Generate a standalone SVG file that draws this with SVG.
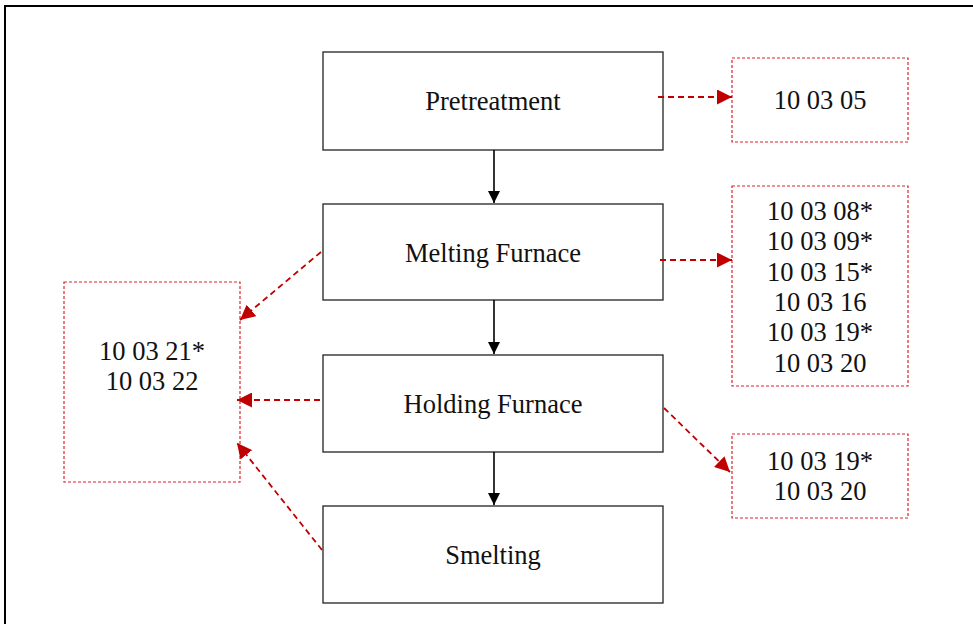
<svg xmlns="http://www.w3.org/2000/svg" width="973" height="624" viewBox="0 0 973 624">
<style>
.box{fill:#fff;stroke:#222;stroke-width:1.3}
.out{fill:#fff;stroke:#d9242b;stroke-width:1.2;stroke-dasharray:3 2}
.t{font-family:"Liberation Serif","Times New Roman",serif;font-size:26.5px;fill:#111;text-anchor:middle}
.k{stroke:#000;stroke-width:1.6;fill:none}
.r{stroke:#c00000;stroke-width:1.8;fill:none;stroke-dasharray:6 4}
</style>
<defs>
<marker id="ak" viewBox="0 0 10 10" refX="10" refY="5" markerWidth="14" markerHeight="12" markerUnits="userSpaceOnUse" orient="auto"><path d="M0,0L10,5L0,10z" fill="#000"/></marker>
<marker id="ar" viewBox="0 0 10 10" refX="10" refY="5" markerWidth="15" markerHeight="15" markerUnits="userSpaceOnUse" orient="auto"><path d="M0,0L10,5L0,10z" fill="#c00000"/></marker>
</defs>
<rect width="973" height="624" fill="#fff"/>
<path d="M5,624V6H973" fill="none" stroke="#000" stroke-width="2"/>
<g id="pretreatment"><rect class="box" x="323" y="52" width="340" height="98"/><text class="t" x="493" y="110">Pretreatment</text></g>
<g id="melting"><rect class="box" x="323" y="204" width="340" height="96"/><text class="t" x="493" y="262">Melting Furnace</text></g>
<g id="holding"><rect class="box" x="323" y="355" width="340" height="97"/><text class="t" x="493" y="413">Holding Furnace</text></g>
<g id="smelting"><rect class="box" x="323" y="506" width="340" height="97"/><text class="t" x="493" y="564">Smelting</text></g>
<g id="w1"><rect class="out" x="732" y="58" width="176" height="84"/><text class="t" x="820" y="109">10 03 05</text></g>
<g id="w2"><rect class="out" x="732" y="186" width="176" height="200"/><text class="t" x="820" y="220">10 03 08*</text><text class="t" x="820" y="250">10 03 09*</text><text class="t" x="820" y="281">10 03 15*</text><text class="t" x="820" y="311">10 03 16</text><text class="t" x="820" y="341">10 03 19*</text><text class="t" x="820" y="372">10 03 20</text></g>
<g id="w3"><rect class="out" x="732" y="434" width="176" height="84"/><text class="t" x="820" y="470">10 03 19*</text><text class="t" x="820" y="500">10 03 20</text></g>
<g id="w4"><rect class="out" x="64" y="282" width="176" height="200"/><text class="t" x="152" y="360">10 03 21*</text><text class="t" x="152" y="390">10 03 22</text></g>
<g id="connectors">
<path class="k" d="M494,150V203" marker-end="url(#ak)"/>
<path class="k" d="M494,300V354" marker-end="url(#ak)"/>
<path class="k" d="M494,452V505" marker-end="url(#ak)"/>
<path class="r" d="M658,97H732" marker-end="url(#ar)"/>
<path class="r" d="M660,260H732" marker-end="url(#ar)"/>
<path class="r" d="M664,408L730,472" marker-end="url(#ar)"/>
<path class="r" d="M321,252L240,320" marker-end="url(#ar)"/>
<path class="r" d="M320,400H237" marker-end="url(#ar)"/>
<path class="r" d="M322,550L237,443" marker-end="url(#ar)"/>
</g>
</svg>
